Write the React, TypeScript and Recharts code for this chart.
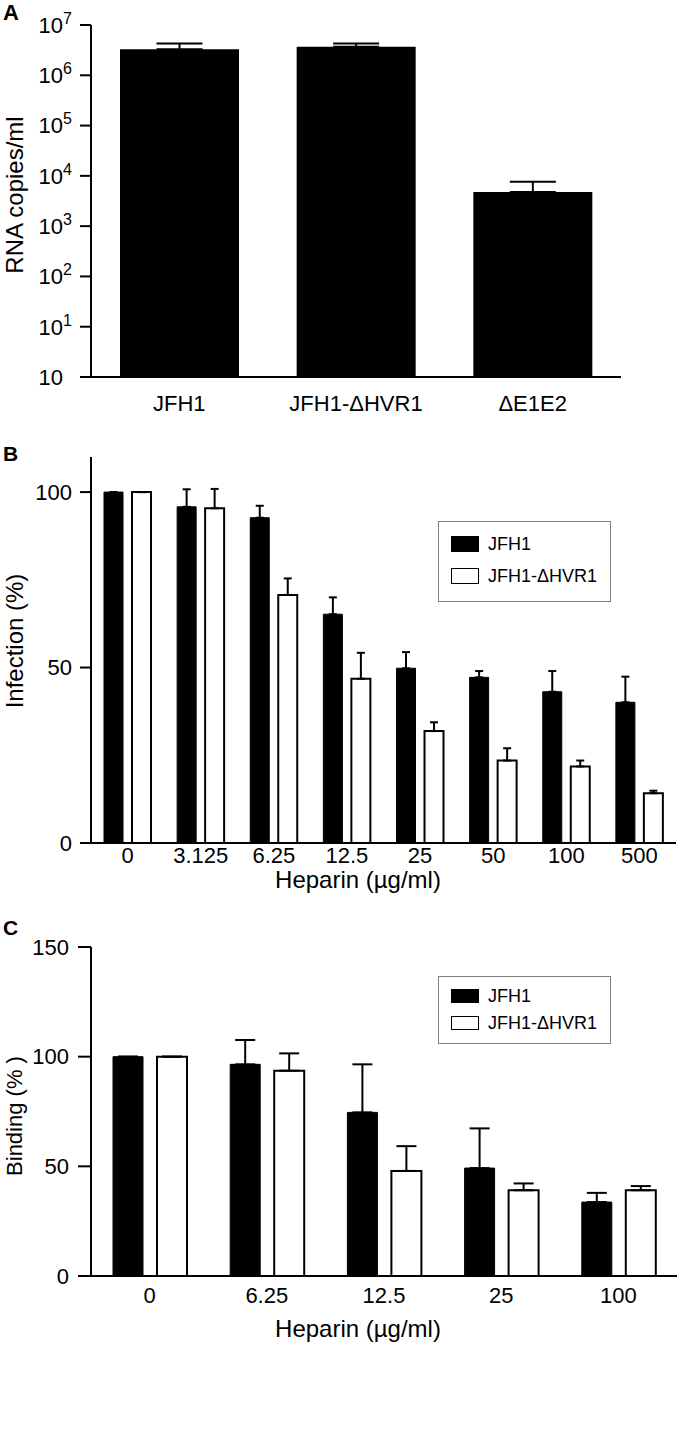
import { BarChart, Bar, XAxis, YAxis, ErrorBar, Legend } from 'recharts';

const FONT = '"Liberation Sans", Arial, Helvetica, sans-serif';

// Panel A: RNA copies in supernatant (log scale)
const virusA = ['JFH1', 'JFH1-\u0394HVR1', '\u0394E1E2'];
const rnaCopies = [3.3e6, 3.7e6, 4.8e3];
const rnaCopiesErr = [1.0e6, 0.6e6, 2.8e3];
const logTicksA = [1, 10, 1e2, 1e3, 1e4, 1e5, 1e6, 1e7];
const logTickExp = ['', '1', '2', '3', '4', '5', '6', '7'];

// Panel B: infection vs heparin
const heparinB = ['0', '3.125', '6.25', '12.5', '25', '50', '100', '500'];
const infectionJFH1 = [100, 95.8, 92.7, 65.2, 49.8, 47.2, 43.1, 40.1];
const infectionJFH1Err = [0, 5.0, 3.4, 4.8, 4.6, 1.8, 5.9, 7.3];
const infectionHVR = [100, 95.4, 70.7, 46.8, 31.9, 23.5, 21.8, 14.2];
const infectionHVRErr = [0, 5.5, 4.7, 7.4, 2.5, 3.5, 1.7, 0.7];
const ticksB = [0, 50, 100];

// Panel C: binding vs heparin
const heparinC = ['0', '6.25', '12.5', '25', '100'];
const bindingJFH1 = [100, 96.5, 74.6, 49.2, 33.7];
const bindingJFH1Err = [0, 11.1, 21.9, 18.1, 4.2];
const bindingHVR = [100, 93.6, 47.9, 39.1, 39.1];
const bindingHVRErr = [0, 7.9, 11.3, 3.1, 1.9];
const ticksC = [0, 50, 100, 150];

const seriesNames = ['JFH1', 'JFH1-\u0394HVR1'];

const dataA = virusA.map((name, i) => ({ name, copies: rnaCopies[i], err: [0, rnaCopiesErr[i]] }));
const dataB = heparinB.map((dose, i) => ({
  dose,
  wt: infectionJFH1[i],
  wtErr: [0, infectionJFH1Err[i]],
  hvr: infectionHVR[i],
  hvrErr: [0, infectionHVRErr[i]],
}));
const dataC = heparinC.map((dose, i) => ({
  dose,
  wt: bindingJFH1[i],
  wtErr: [0, bindingJFH1Err[i]],
  hvr: bindingHVR[i],
  hvrErr: [0, bindingHVRErr[i]],
}));

const tickFont = { fontSize: 22, fill: '#000', fontFamily: FONT };
const axisLine = { stroke: '#000', strokeWidth: 2 };

function LogTick(props: any) {
  const { x, y, payload } = props;
  const i = logTicksA.indexOf(payload.value);
  const exp = logTickExp[i] ?? '';
  if (!exp) {
    return (
      <text x={x - 9} y={y} dy="0.355em" textAnchor="end" fontSize={22} fontFamily={FONT} fill="#000">
        10
      </text>
    );
  }
  return (
    <text x={x} y={y} dy="0.355em" textAnchor="end" fontSize={22} fontFamily={FONT} fill="#000">
      <tspan>10</tspan>
      <tspan dy={-9} fontSize={16}>{exp}</tspan>
    </text>
  );
}

function BoxLegend(props: any) {
  const { payload, boxH, rowTop, rowGap, swH } = props;
  return (
    <div
      style={{
        width: 173,
        height: boxH,
        boxSizing: 'border-box',
        border: '1.5px solid #808080',
        background: '#fff',
        position: 'relative',
        fontFamily: FONT,
        fontSize: 18,
      }}
    >
      {(payload || []).map((entry: any, i: number) => (
        <div
          key={entry.value}
          style={{ position: 'absolute', left: 12, top: rowTop + i * rowGap, height: swH, display: 'flex', alignItems: 'center' }}
        >
          <div
            style={{
              width: 28,
              height: swH,
              boxSizing: 'border-box',
              background: entry.color,
              border: '1px solid #000',
            }}
          />
          <span style={{ marginLeft: 9, color: '#000', lineHeight: 1 }}>{entry.value}</span>
        </div>
      ))}
    </div>
  );
}

export default function App() {
  return (
    <div style={{ position: 'absolute', left: 0, top: 0, width: 680, height: 1444, background: '#fff' }}>
      <div style={{ position: 'absolute', left: 0, top: 0 }}>
        <BarChart width={680} height={420} data={dataA} margin={{ top: 25, right: 59, bottom: 0, left: 0 }}>
          <XAxis dataKey="name" height={43} tickLine={false} tickSize={0} tickMargin={18} axisLine={axisLine} tick={tickFont} interval={0} />
          <YAxis
            type="number"
            scale="log"
            domain={[1, 1e7]}
            ticks={logTicksA}
            width={91}
            tickSize={11}
            tickMargin={8}
            tickLine={axisLine}
            axisLine={axisLine}
            tick={<LogTick />}
            interval={0}
          />
          <Bar dataKey="copies" fill="#000" barSize={119} isAnimationActive={false}>
            <ErrorBar dataKey="err" direction="y" width={23} stroke="#000" strokeWidth={2} />
          </Bar>
        </BarChart>
      </div>

      <div style={{ position: 'absolute', left: 0, top: 420 }}>
        <BarChart width={680} height={480} data={dataB} margin={{ top: 37, right: 4, bottom: 0, left: 0 }} barGap={9}>
          <XAxis dataKey="dose" height={57} tickLine={false} tickSize={0} tickMargin={4} axisLine={axisLine} tick={tickFont} interval={0} />
          <YAxis
            type="number"
            domain={[0, 110]}
            ticks={ticksB}
            width={91}
            tickSize={11}
            tickMargin={8}
            tickLine={axisLine}
            axisLine={axisLine}
            tick={tickFont}
            interval={0}
          />
          <Legend
            layout="vertical"
            align="center"
            verticalAlign="middle"
            wrapperStyle={{ left: 438, top: 101, width: 173 }}
            content={<BoxLegend boxH={81} rowTop={13.5} rowGap={32} swH={16} />}
          />
          <Bar dataKey="wt" name={seriesNames[0]} fill="#000" stroke="#000" strokeWidth={1} barSize={19} isAnimationActive={false}>
            <ErrorBar dataKey="wtErr" direction="y" width={4} stroke="#000" strokeWidth={2} />
          </Bar>
          <Bar dataKey="hvr" name={seriesNames[1]} fill="#fff" stroke="#000" strokeWidth={2} barSize={19} isAnimationActive={false}>
            <ErrorBar dataKey="hvrErr" direction="y" width={4} stroke="#000" strokeWidth={2} />
          </Bar>
        </BarChart>
      </div>

      <div style={{ position: 'absolute', left: 0, top: 900 }}>
        <BarChart width={680} height={544} data={dataC} margin={{ top: 47, right: 3, bottom: 0, left: 0 }} barGap={14}>
          <XAxis dataKey="dose" height={168} tickLine={false} tickSize={0} tickMargin={11} axisLine={axisLine} tick={tickFont} interval={0} />
          <YAxis
            type="number"
            domain={[0, 150]}
            ticks={ticksC}
            width={91}
            tickSize={13}
            tickMargin={9}
            tickLine={axisLine}
            axisLine={axisLine}
            tick={tickFont}
            interval={0}
          />
          <Legend
            layout="vertical"
            align="center"
            verticalAlign="middle"
            wrapperStyle={{ left: 438, top: 76, width: 173 }}
            content={<BoxLegend boxH={68} rowTop={11.5} rowGap={27} swH={14} />}
          />
          <Bar dataKey="wt" name={seriesNames[0]} fill="#000" stroke="#000" strokeWidth={1} barSize={30} isAnimationActive={false}>
            <ErrorBar dataKey="wtErr" direction="y" width={10} stroke="#000" strokeWidth={2} />
          </Bar>
          <Bar dataKey="hvr" name={seriesNames[1]} fill="#fff" stroke="#000" strokeWidth={2} barSize={30} isAnimationActive={false}>
            <ErrorBar dataKey="hvrErr" direction="y" width={10} stroke="#000" strokeWidth={2} />
          </Bar>
        </BarChart>
      </div>

      <svg
        width={680}
        height={1444}
        style={{ position: 'absolute', left: 0, top: 0, pointerEvents: 'none' }}
        fontFamily={FONT}
        fill="#000"
      >
        <text x={3} y={20} fontSize={22} fontWeight="bold">A</text>
        <text x={3} y={461} fontSize={21} fontWeight="bold">B</text>
        <text x={3} y={935} fontSize={21} fontWeight="bold">C</text>
        <text x={23} y={195} fontSize={24} textAnchor="middle" transform="rotate(-90 23 195)">RNA copies/ml</text>
        <text x={23} y={641} fontSize={24} textAnchor="middle" transform="rotate(-90 23 641)">Infection (%)</text>
        <text x={22} y={1116} fontSize={22} textAnchor="middle" transform="rotate(-90 22 1116)">Binding (% )</text>
        <text x={358} y={888} fontSize={24} textAnchor="middle">Heparin (µg/ml)</text>
        <text x={358} y={1337} fontSize={24} textAnchor="middle">Heparin (µg/ml)</text>
      </svg>
    </div>
  );
}
